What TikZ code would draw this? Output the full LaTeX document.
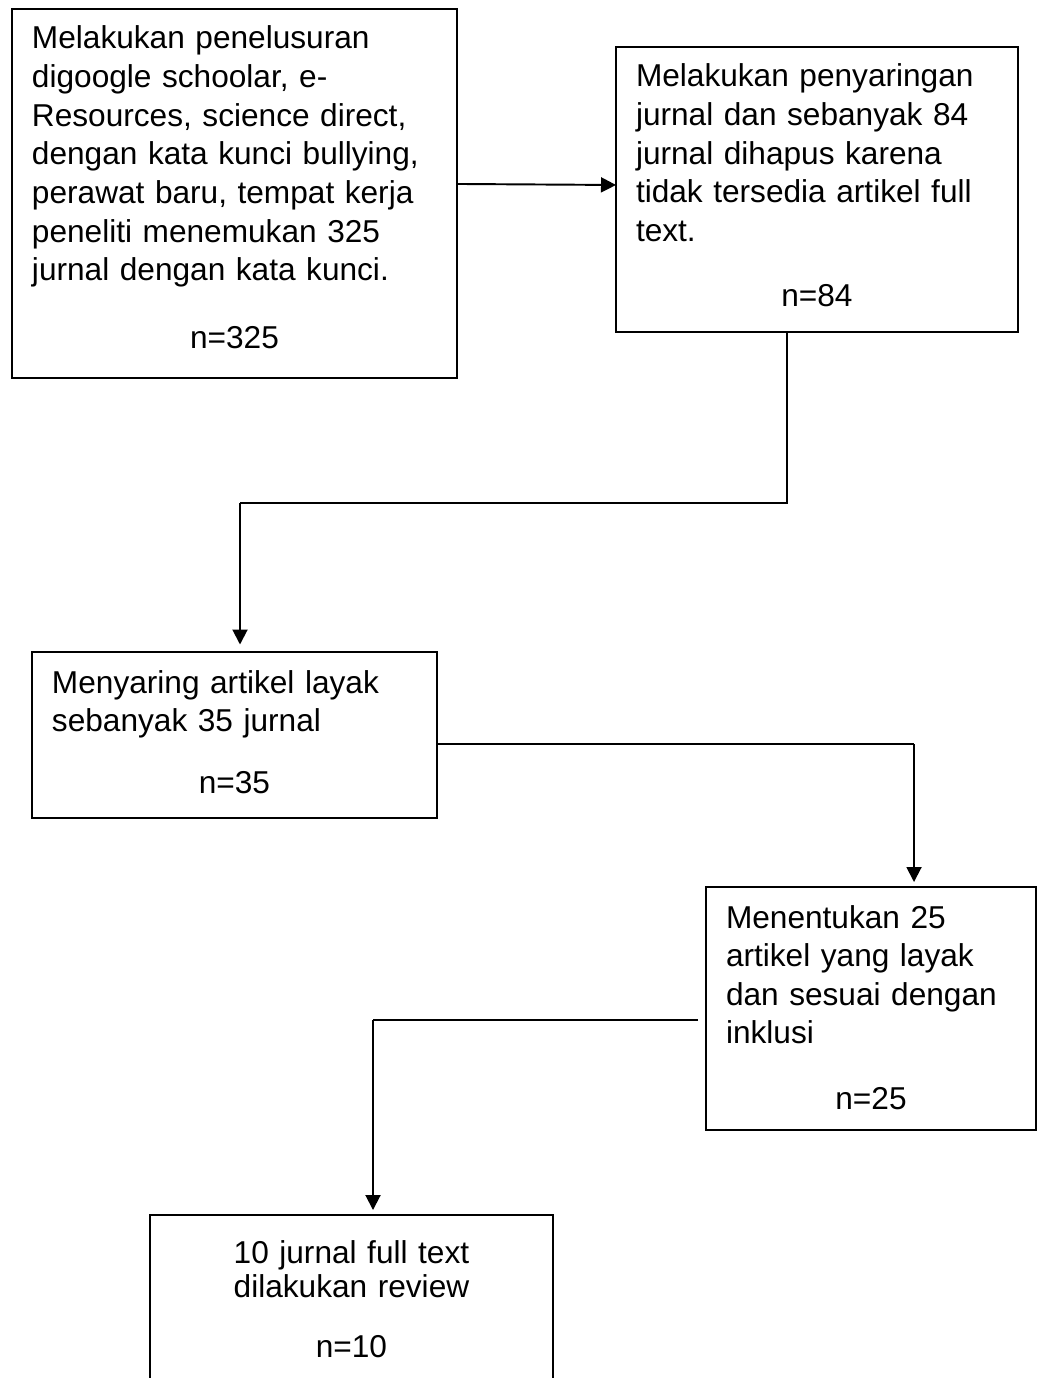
\documentclass[tikz,border=0pt]{standalone}
\usepackage{fontspec}
\setmainfont{Liberation Sans}
\usepackage{tikz}
\usetikzlibrary{arrows.meta, calc}

\begin{document}
\begin{tikzpicture}[
    x=0.02cm, y=-0.02cm,
    box/.style={draw, line width=1.1pt, anchor=base west, inner xsep=0.4cm, inner ysep=0pt, outer sep=0pt, font=\fontsize{18}{22}\selectfont},
    link/.style={line width=0.6pt},
    arrow/.style={line width=1.1pt, -{Triangle[length=0.3cm, width=0.3cm]}}
]
    \useasboundingbox (0,0) rectangle (1038,1378);
    \clip (0,0) rectangle (1038,1378);

    \node[box, text width=8.1cm, text height=0.8cm, text depth=6.58cm] at (12,49) (search) {\raggedright Melakukan penelusuran\\ digoogle schoolar, e-\\ Resources, science direct,\\ dengan kata kunci bullying,\\ perawat baru, tempat kerja\\ peneliti menemukan 325\\ jurnal dengan kata kunci.\par\vspace{0.58cm}\centering n=325\par};
    \node[box, text width=7.24cm, text height=0.8cm, text depth=4.9cm] at (616,87) (filter) {\raggedright Melakukan penyaringan\\ jurnal dan sebanyak 84\\ jurnal dihapus karena\\ tidak tersedia artikel full\\ text.\par\vspace{0.53cm}\centering n=84\par};
    \node[box, text width=7.3cm, text height=0.82cm, text depth=2.5cm] at (32,693) (eligible) {\raggedright Menyaring artikel layak\\ sebanyak 35 jurnal\par\vspace{0.46cm}\centering n=35\par};
    \node[box, text width=5.8cm, text height=0.82cm, text depth=4.04cm] at (706,928) (selected) {\raggedright Menentukan 25\\ artikel yang layak\\ dan sesuai dengan\\ inklusi\par\vspace{0.54cm}\centering n=25\par};
    \node[box, text width=7.26cm, text height=0.96cm, text depth=3.2cm, font=\fontsize{18}{19.4}\selectfont] at (150,1263) (review) {\centering 10 jurnal full text\\ dilakukan review\par\vspace{0.52cm}n=10\par};

    % bends of the connectors
    \coordinate (k1) at (787,503);
    \coordinate (k2) at (240,503);
    \coordinate (k3) at (914,744);
    \coordinate (k4) at (373,1020);

    \draw[arrow] ([yshift=0.19cm]search.east) -- ([yshift=0.09cm]filter.west);
    \draw[link] (filter.south -| k1) -- (k1) -- (k2);
    \draw[arrow, shorten >=0.15cm] (k2) -- (k2 |- eligible.north);
    \draw[link] (eligible.east |- k3) -- (k3);
    \draw[arrow, shorten >=0.1cm] (k3) -- (k3 |- selected.north);
    \draw[link, shorten <=0.16cm] (selected.west |- k4) -- (k4);
    \draw[arrow, shorten >=0.1cm] (k4) -- (k4 |- review.north);
\end{tikzpicture}
\end{document}
